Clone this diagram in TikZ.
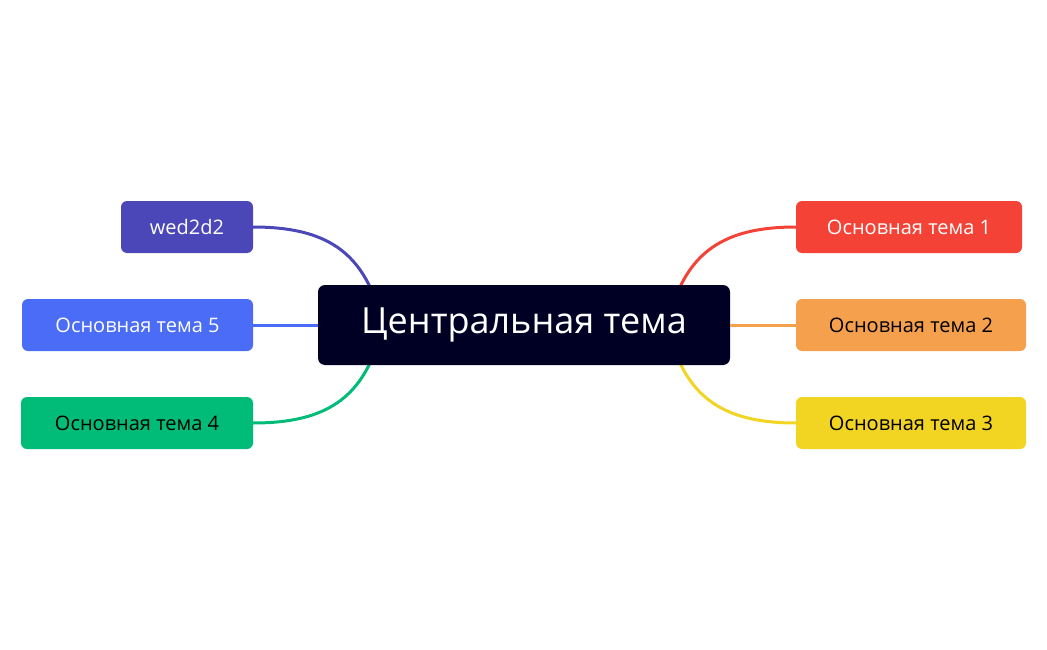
\documentclass[tikz,border=0pt]{standalone}
\usepackage{fontspec}
\setmainfont{Open Sans}
\begin{document}
\begin{tikzpicture}[x=1pt,y=-1pt,
  topic/.style={rounded corners=6pt,minimum height=52pt,inner sep=0pt,font=\fontsize{20}{24}\selectfont},
  conn/.style={line width=3pt}]
\useasboundingbox (0,0) rectangle (1047,650);
\definecolor{cred}{HTML}{F44336}
\definecolor{corange}{HTML}{F5A04D}
\definecolor{cyellow}{HTML}{F2D422}
\definecolor{cpurple}{HTML}{4B47B9}
\definecolor{cblue}{HTML}{4A6CF7}
\definecolor{cgreen}{HTML}{00BC78}
\definecolor{cdark}{HTML}{000025}
% connectors first
\coordinate (ct1) at (680,287);
\coordinate (cb1) at (680,363);
\coordinate (ct2) at (370,287);
\coordinate (cb2) at (370,363);
\node[topic,fill=cred,text=white,minimum width=226pt] (t1) at (909,227) {Основная тема 1};
\node[topic,fill=corange,minimum width=230pt] (t2) at (911,325) {Основная тема 2};
\node[topic,fill=cyellow,minimum width=230pt] (t3) at (911,423) {Основная тема 3};
\node[topic,fill=cpurple,text=white,minimum width=132pt] (w) at (187,227) {wed2d2};
\node[topic,fill=cblue,text=white,minimum width=231pt] (t5) at (137.5,325) {Основная тема 5};
\node[topic,fill=cgreen,minimum width=232pt] (t4) at (137,423) {Основная тема 4};
\begin{scope}[on background layer/.style={}]
\draw[conn,cred] (ct1) .. controls (700,245) and (735,227) .. (t1.west);
\draw[conn,cyellow] (cb1) .. controls (700,405) and (735,423) .. (t3.west);
\draw[conn,cpurple] (ct2) .. controls (350,245) and (315,227) .. (w.east);
\draw[conn,cgreen] (cb2) .. controls (350,405) and (315,423) .. (t4.east);
\end{scope}
\node[rounded corners=7pt,fill=cdark,text=white,minimum width=412pt,minimum height=80pt,inner sep=0pt,font=\fontsize{36}{42}\selectfont] (c) at (524,325) {Центральная тема};
\draw[conn,corange] (c.east) -- (t2.west);
\draw[conn,cblue] (c.west) -- (t5.east);
\end{tikzpicture}
\end{document}
